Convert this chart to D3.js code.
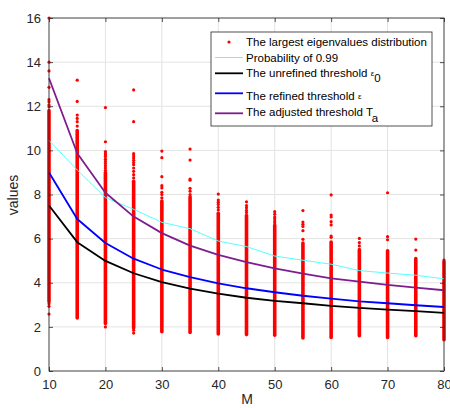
<!DOCTYPE html>
<html><head><meta charset="utf-8">
<script src="https://cdn.jsdelivr.net/npm/d3@7"></script>
<style>body{margin:0;background:#fff}svg{display:block;font-family:"Liberation Sans",Arial,sans-serif}</style>
</head><body><svg id="c" width="450" height="408"></svg>
<script>
const M = [10,15,20,25,30,35,40,45,50,55,60,65,70,75,80];
const prob99   = [10.45,9.11,7.86,7.33,6.74,6.45,5.89,5.64,5.21,5.02,4.84,4.55,4.44,4.34,4.18];
const unrefined= [7.5,5.84,4.99,4.43,4.03,3.73,3.51,3.32,3.18,3.07,2.95,2.86,2.78,2.71,2.63];
const refined  = [9.0,6.89,5.8,5.09,4.6,4.25,3.97,3.75,3.57,3.41,3.28,3.16,3.07,2.98,2.9];
const adjusted = [13.27,9.87,8.08,7.0,6.25,5.68,5.26,4.93,4.65,4.41,4.2,4.05,3.9,3.78,3.66];
const denseLow  = [3.15,2.4,2.15,1.95,1.78,1.75,1.68,1.65,1.62,1.5,1.52,1.6,1.52,1.6,1.42];
const denseHigh = [11.8,10.9,9.0,8.6,7.7,7.9,7.15,7.05,6.6,5.8,5.85,5.5,5.45,5.1,4.95];
const outliers = [
  [16.0,14.0,13.6,12.86,12.3,12.2,12.06,11.98,3.05,2.93,2.58],
  [13.18,12.22,11.6,11.45,11.3,11.1],
  [11.94,10.39,9.95,9.88,9.8,9.72,9.6,9.5,9.4,9.3,9.2,9.1,2.0],
  [12.74,11.3,9.85,9.75,9.65,9.55,9.45,9.35,9.2,9.05,8.9,8.75,1.85,1.72],
  [9.97,9.67,8.81,8.4,8.3,8.1,8.0,7.85],
  [10.06,9.56,8.7,8.65,8.28,8.15,8.0],
  [8.02,7.75,7.65,7.55,7.42,7.3],
  [7.67,7.5,7.4,7.28,7.18],
  [7.22,7.1,6.98,6.9,6.8,6.72],
  [7.27,6.75,6.65,6.55,6.36,5.97],
  [7.98,7.07,6.98,6.77,6.62,6.12,6.06],
  [6.01,5.82,5.67],
  [8.08,6.09,5.95],
  [5.98,5.48],
  [5.03]
];
const xTicks = [10,20,30,40,50,60,70,80];
const yTicks = [0,2,4,6,8,10,12,14,16];
const legendLabels = ["The largest eigenvalues distribution","Probability of 0.99","The unrefined threshold ","The refined threshold ","The adjusted threshold T"];

const svg = d3.select("#c");
const x = d3.scaleLinear().domain([10,80]).range([49,444]);
const y = d3.scaleLinear().domain([0,16]).range([371,18]);
const axisCol = "#262626";

// grid
svg.append("g").selectAll("line").data(xTicks).join("line")
  .attr("x1",d=>x(d)).attr("x2",d=>x(d)).attr("y1",y(0)).attr("y2",y(16))
  .attr("stroke","#e3e3e3").attr("stroke-width",1);
svg.append("g").selectAll("line").data(yTicks).join("line")
  .attr("y1",d=>y(d)).attr("y2",d=>y(d)).attr("x1",x(10)).attr("x2",x(80))
  .attr("stroke","#e3e3e3").attr("stroke-width",1);

// dense bands
const red = "#ff0000";
svg.append("g").selectAll("line").data(M).join("line")
  .attr("x1",d=>x(d)).attr("x2",d=>x(d))
  .attr("y1",(d,i)=>y(denseLow[i])).attr("y2",(d,i)=>y(denseHigh[i]))
  .attr("stroke",red).attr("stroke-width",3.6).attr("stroke-linecap","round");
// outliers
const pts = [];
M.forEach((m,i)=>outliers[i].forEach(v=>pts.push([m,v])));
svg.append("g").selectAll("circle").data(pts).join("circle")
  .attr("cx",d=>x(d[0])).attr("cy",d=>y(d[1])).attr("r",1.6).attr("fill",red);

// lines
const line = d3.line().x((d,i)=>x(M[i])).y(d=>y(d));
const series = [
  {v:prob99,c:"#55ffff",w:1},
  {v:unrefined,c:"#000000",w:1.8},
  {v:refined,c:"#0000ff",w:1.8},
  {v:adjusted,c:"#7e1e8e",w:1.8}
];
series.forEach(s=>svg.append("path").attr("d",line(s.v)).attr("fill","none")
  .attr("stroke",s.c).attr("stroke-width",s.w).attr("stroke-linejoin","round"));

// axes frame
svg.append("rect").attr("x",x(10)).attr("y",y(16)).attr("width",x(80)-x(10)).attr("height",y(0)-y(16))
  .attr("fill","none").attr("stroke",axisCol).attr("stroke-width",0.8);
const xa = d3.axisBottom(x).tickValues(xTicks).tickSize(-4).tickPadding(9).tickFormat(d3.format("d"));
const ya = d3.axisLeft(y).tickValues(yTicks).tickSize(-4).tickPadding(8).tickFormat(d3.format("d"));
const gx = svg.append("g").attr("transform",`translate(0,${y(0)})`).call(xa);
const gy = svg.append("g").attr("transform",`translate(${x(10)},0)`).call(ya);
svg.append("g").attr("transform",`translate(0,${y(16)})`).call(d3.axisTop(x).tickValues(xTicks).tickSize(-4).tickFormat(""));
svg.append("g").attr("transform",`translate(${x(80)},0)`).call(d3.axisRight(y).tickValues(yTicks).tickSize(-4).tickFormat(""));
svg.selectAll(".domain").remove();
svg.selectAll(".tick line").attr("stroke",axisCol).attr("stroke-width",0.8);
svg.selectAll(".tick text").attr("fill",axisCol).attr("font-size",13).attr("font-family","Liberation Sans, Arial, sans-serif");

svg.append("text").attr("x",247).attr("y",404).attr("text-anchor","middle").attr("font-size",14).attr("fill",axisCol).text("M");
svg.append("text").attr("transform","translate(18,195) rotate(-90)").attr("text-anchor","middle").attr("font-size",14).attr("fill",axisCol).text("values");

// legend
const lg = svg.append("g");
lg.append("rect").attr("x",211).attr("y",32).attr("width",221).attr("height",94).attr("fill","#fff").attr("stroke","#262626").attr("stroke-width",0.8);
const rowsY = [42,57.5,73.3,93.3,113.3];
const baseY = [46.3,61.5,76.8,99.5,115.8];
lg.append("circle").attr("cx",229).attr("cy",rowsY[0]).attr("r",1.6).attr("fill",red);
series.forEach((s,i)=>lg.append("line").attr("x1",215).attr("x2",243).attr("y1",rowsY[i+1]).attr("y2",rowsY[i+1]).attr("stroke",s.c).attr("stroke-width",s.w));
legendLabels.forEach((t,i)=>{
  const tx = lg.append("text").attr("x",246).attr("y",baseY[i]).attr("font-size",11.5).attr("fill","#000").text(t);
  if(i===2){ tx.append("tspan").attr("font-size",8).attr("dy",-1).text("\u03b5"); tx.append("tspan").attr("font-size",11.5).attr("dy",6).text("0"); }
  if(i===3){ tx.append("tspan").attr("font-size",8).attr("dy",-1).text("\u03b5"); }
  if(i===4){ tx.append("tspan").attr("font-size",11.5).attr("dy",6).text("a"); }
});
</script></body></html>
